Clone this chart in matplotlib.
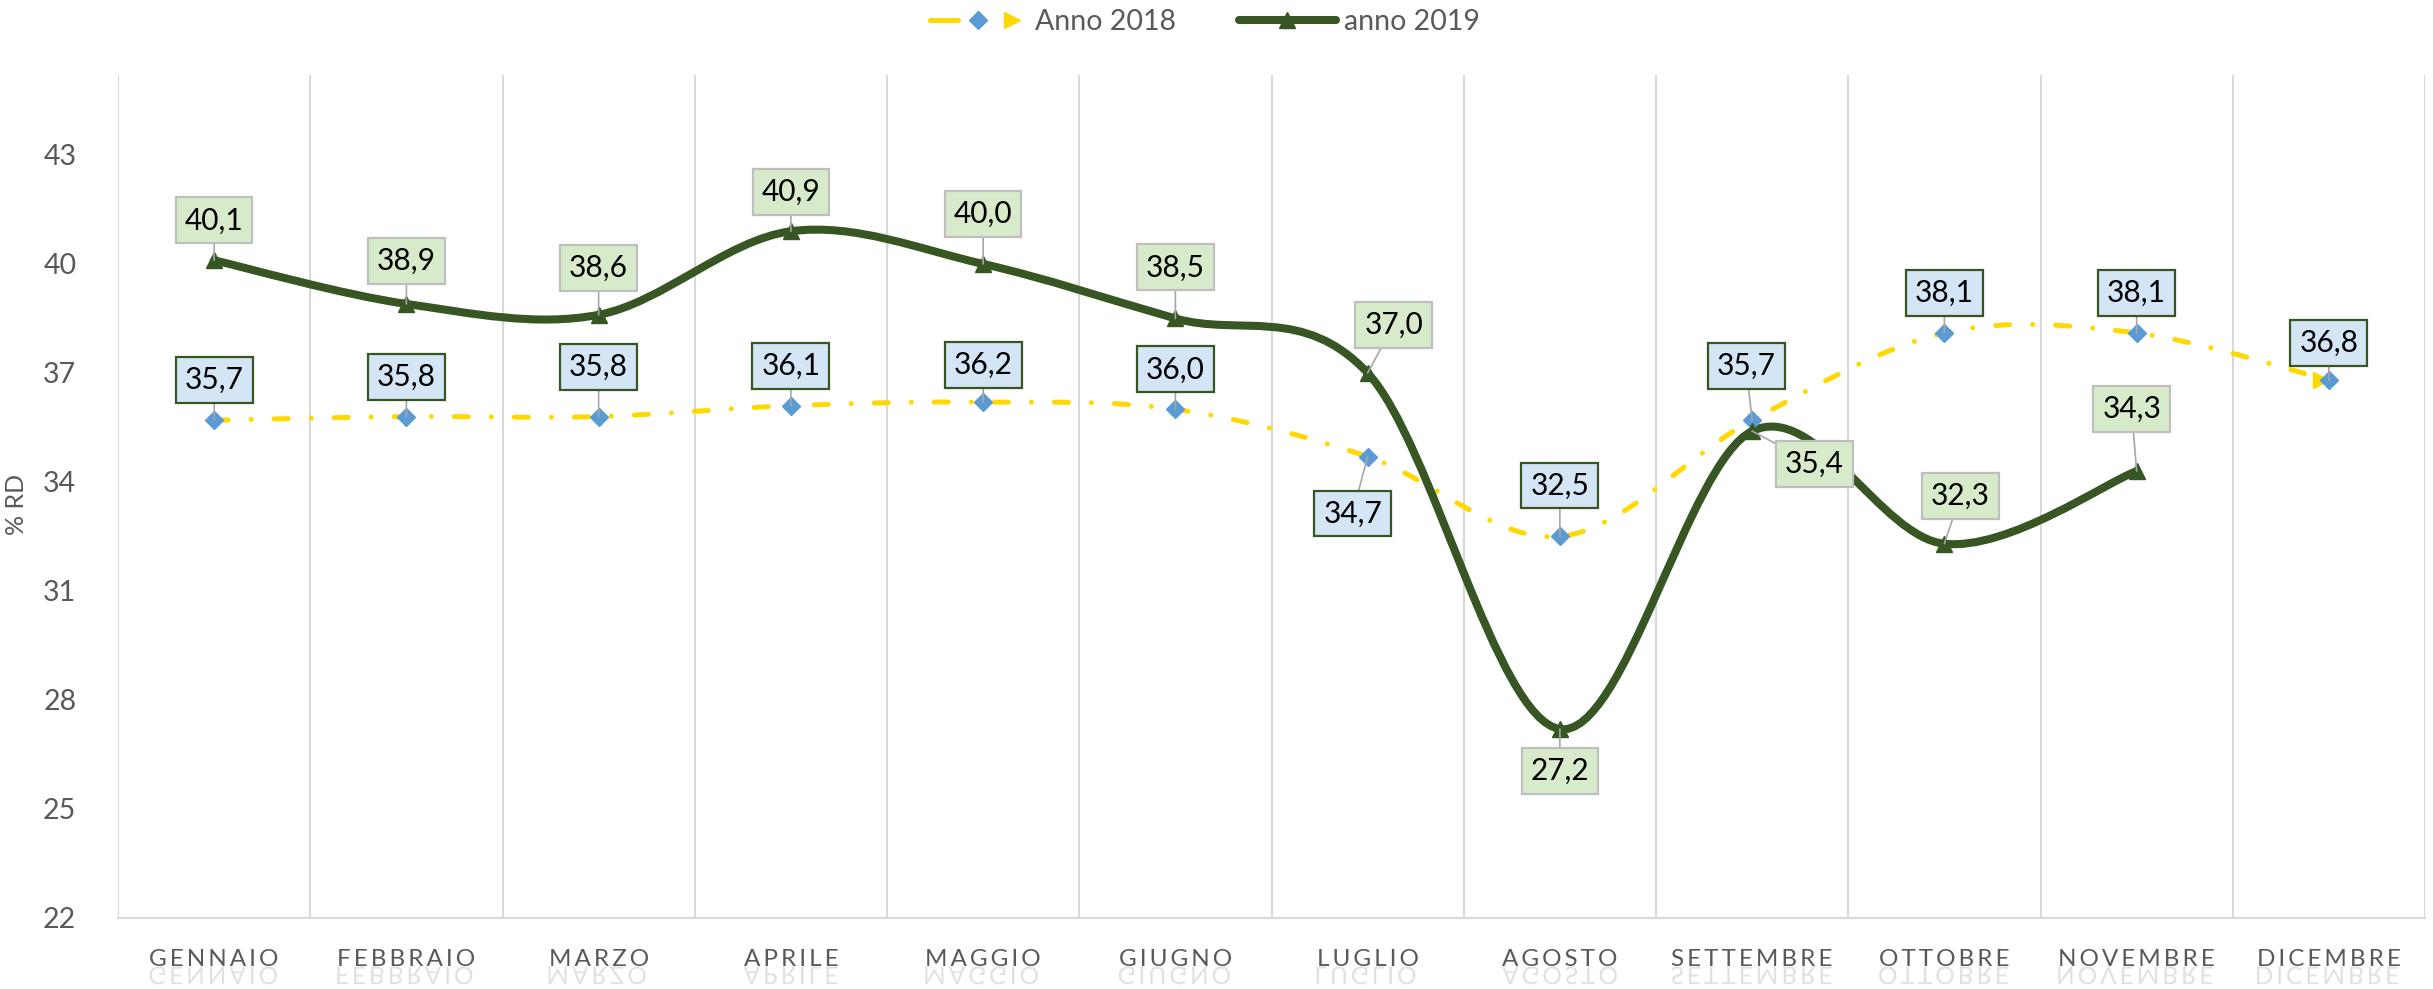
import numpy as np
import matplotlib
matplotlib.use('Agg')
import matplotlib.pyplot as plt
import matplotlib.transforms as mtransforms
from matplotlib.path import Path
from matplotlib.patches import PathPatch
from matplotlib.lines import Line2D
from matplotlib.legend_handler import HandlerTuple
from matplotlib.textpath import TextPath
from matplotlib.font_manager import FontProperties

plt.rcParams['font.family'] = ['Lato', 'DejaVu Sans']

months = ['GENNAIO', 'FEBBRAIO', 'MARZO', 'APRILE', 'MAGGIO', 'GIUGNO',
          'LUGLIO', 'AGOSTO', 'SETTEMBRE', 'OTTOBRE', 'NOVEMBRE', 'DICEMBRE']
rd_2018 = [35.7, 35.8, 35.8, 36.1, 36.2, 36.0, 34.7, 32.5, 35.7, 38.1, 38.1, 36.8]
rd_2019 = [40.1, 38.9, 38.6, 40.9, 40.0, 38.5, 37.0, 27.2, 35.4, 32.3, 34.3]
yticks = [22, 25, 28, 31, 34, 37, 40, 43]

# label offsets (pixels) from each point
off_2018 = [(0, 40), (0, 40), (0, 50), (0, 40), (0, 37), (0, 40),
            (-15, -57), (0, 51), (-6, 54), (0, 40), (0, 40), (0, 37)]
off_2019 = [(0, 40), (0, 43), (0, 47), (0, 39), (0, 50), (0, 51),
            (26, 48), (0, -42), (62, -33), (16, 48), (-5, 62)]

YELLOW = '#FFD800'
BLUE = '#5B9BD5'
GREEN = '#375623'
GREY_TXT = '#595959'
GRID = '#D9D9D9'
CAT_SIZE = 17.5


def smooth_path(xs, ys):
    """Excel-like smoothed line through the points (cubic bezier)"""
    pts = np.column_stack([xs, ys]).astype(float)
    n = len(pts)
    verts = [pts[0]]
    codes = [Path.MOVETO]
    for i in range(n - 1):
        p0 = pts[max(i - 1, 0)]
        p1 = pts[i]
        p2 = pts[i + 1]
        p3 = pts[min(i + 2, n - 1)]
        verts += [p1 + (p2 - p0) / 6, p2 - (p3 - p1) / 6, p2]
        codes += [Path.CURVE4] * 3
    return Path(verts, codes)


fig = plt.figure(figsize=(24.33, 9.89), dpi=100)
ax = fig.add_axes([118 / 2433, 1 - 918 / 989, (2425 - 118) / 2433, (918 - 75) / 989])

x18 = np.arange(len(rd_2018))
x19 = np.arange(len(rd_2019))

ax.add_patch(PathPatch(smooth_path(x18, rd_2018), fill=False, edgecolor=YELLOW, lw=3.6,
                       linestyle=(0, (2.8, 4.6, 0.01, 4.6)), capstyle='round', zorder=3))
ax.add_patch(PathPatch(smooth_path(x19, rd_2019), fill=False, edgecolor=GREEN, lw=5.8,
                       capstyle='round', zorder=4))
ax.plot(x18[-1:] - 0.04, rd_2018[-1:], linestyle='none', marker='>', ms=11, color=YELLOW, zorder=3)
ax.plot(x18, rd_2018, linestyle='none', marker='D', ms=9, color=BLUE, zorder=5)
ax.plot(x19, rd_2019, linestyle='none', marker='^', ms=12, color=GREEN, zorder=6)

for xs, vals, offs, fc, ec in [(x18, rd_2018, off_2018, '#D4E5F5', GREEN),
                               (x19, rd_2019, off_2019, '#D7EBCB', '#BFBFBF')]:
    for x, v, (dx, dy) in zip(xs, vals, offs):
        ax.annotate(f'{v:.1f}'.replace('.', ','), (x, v), xytext=(dx, dy),
                    textcoords='offset pixels', ha='center', va='center',
                    fontsize=21.5, color='black', zorder=8,
                    bbox=dict(boxstyle='square,pad=0.3', fc=fc, ec=ec, lw=1.6),
                    arrowprops=dict(arrowstyle='-', color='#A6A6A6', lw=1.2,
                                    shrinkA=0, shrinkB=0))

ax.set_xlim(-0.5, len(months) - 0.5)
ax.set_ylim(22, 45.2)
ax.set_yticks(yticks)
ax.set_xticks(np.arange(len(months)))
spaced = ['\u2009'.join(m) for m in months]
ax.set_xticklabels(spaced, fontsize=CAT_SIZE, color=GREY_TXT)
ax.set_xticks(np.arange(len(months) + 1) - 0.5, minor=True)
ax.grid(True, which='minor', axis='x', color=GRID, lw=1.5)
ax.tick_params(axis='both', which='both', length=0)
ax.tick_params(axis='x', pad=22)
ax.tick_params(axis='y', labelsize=20.5, labelcolor=GREY_TXT, pad=30)
for s in ['top', 'right', 'left']:
    ax.spines[s].set_visible(False)
ax.spines['bottom'].set_color(GRID)
ax.spines['bottom'].set_linewidth(1.5)
ax.set_ylabel('% RD', fontsize=18, color=GREY_TXT)
ax.yaxis.set_label_coords(-0.039, 0.49)

# faint reflection under the month names
fig.canvas.draw()
k = fig.dpi / 72
fp = FontProperties(family=['Lato', 'DejaVu Sans'], size=CAT_SIZE)
for lab in ax.get_xticklabels():
    bb = lab.get_window_extent()
    tp = TextPath((0, 0), lab.get_text(), prop=fp)
    ext = tp.get_extents()
    base = bb.y0 + 0.2 * CAT_SIZE * k
    tr = mtransforms.Affine2D().translate(-ext.x0, 0).scale(k, -k).translate(bb.x0, base - 2)
    fig.patches.append(PathPatch(tp, transform=tr, fc=GREY_TXT, ec='none', alpha=0.18,
                                 figure=fig))

h18 = (Line2D([], [], color=YELLOW, lw=3.6, solid_capstyle='round'),
       Line2D([], [], color=BLUE, marker='D', ms=9, linestyle='none'),
       Line2D([], [], color=YELLOW, marker='>', ms=11, linestyle='none'))
h19 = Line2D([], [], color=GREEN, lw=5.8, marker='^', ms=12, solid_capstyle='round')
fig.legend([h18, h19], ['Anno 2018', 'anno 2019'], loc='center',
           bbox_to_anchor=(1205 / 2433, 1 - 22 / 989), ncol=2, frameon=False,
           fontsize=20.5, labelcolor=GREY_TXT, handlelength=3.4, columnspacing=2.2,
           handletextpad=0.3, handler_map={tuple: HandlerTuple(ndivide=None, pad=0.2)})

fig.savefig('out.png', dpi=100)
